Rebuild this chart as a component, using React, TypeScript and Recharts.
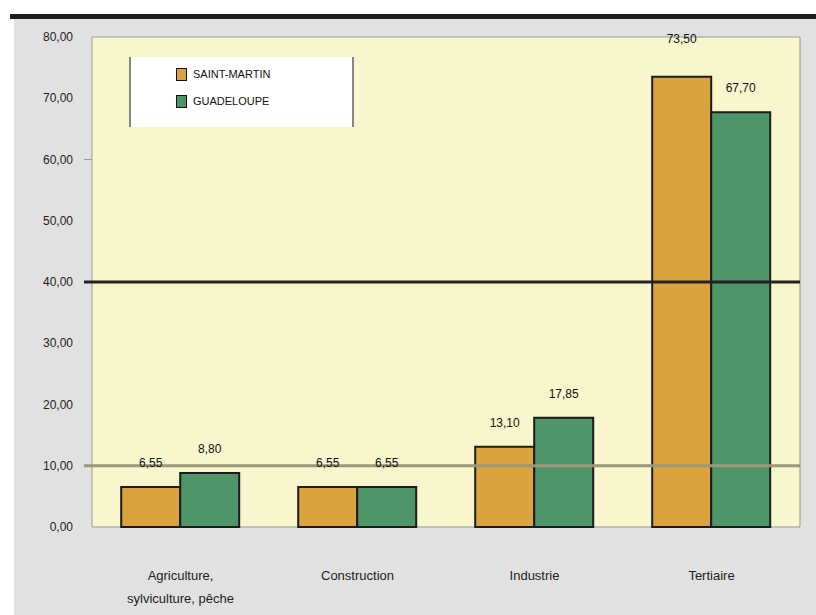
import React from "react";
import { BarChart, Bar, XAxis, YAxis, ReferenceLine, ReferenceArea, LabelList } from "recharts";

const categories = ["Agriculture,\nsylviculture, pêche", "Construction", "Industrie", "Tertiaire"];
const saintMartin = [6.55, 6.55, 13.1, 73.5];
const guadeloupe = [8.8, 6.55, 17.85, 67.7];
const seriesNames = ["SAINT-MARTIN", "GUADELOUPE"];
const yTicks = [0, 10, 20, 30, 40, 50, 60, 70, 80];

const data = categories.map((c, i) => ({ name: c, sm: saintMartin[i], gp: guadeloupe[i] }));

const ORANGE = "#dba33d";
const GREEN = "#4e956a";
const FONT = "'Liberation Sans', Arial, sans-serif";

const fmt = (v: number) => v.toFixed(2).replace(".", ",");

const YTick = (props: any) => {
  const { y, payload } = props;
  const v = payload.value;
  return (
    <g>
      {v === 10 && <line x1={84} x2={92} y1={y} y2={y} stroke="#9d9879" strokeWidth={3} />}
      {v === 40 && <line x1={84} x2={92} y1={y} y2={y} stroke="#222" strokeWidth={3} />}
      {v === 60 && <line x1={84} x2={92} y1={y} y2={y} stroke="#999" strokeWidth={1} />}
      <text x={73} y={y} dy={4} textAnchor="end" fontSize={12} fontFamily={FONT} fill="#222">
        {fmt(v)}
      </text>
    </g>
  );
};

const XTick = (props: any) => {
  const { x, y, payload } = props;
  const lines = String(payload.value).split("\n");
  return (
    <g>
      {lines.map((l, i) => (
        <text key={i} x={x} y={y + 45 + i * 23} textAnchor="middle" fontSize={13} fontFamily={FONT} fill="#222">
          {l}
        </text>
      ))}
    </g>
  );
};

const makeLabel = (extraIndex: number, extra: number) => (props: any) => {
  const { x, y, width, value, index } = props;
  const off = index === extraIndex ? extra : 0;
  return (
    <text x={x + width / 2} y={y - 20 - off} textAnchor="middle" fontSize={12} fontFamily={FONT} fill="#111">
      {fmt(value)}
    </text>
  );
};

const LegendBox = () => (
  <div
    style={{
      position: "absolute",
      left: 129,
      top: 57,
      width: 225,
      height: 70,
      background: "#fff",
      borderLeft: "2px solid #888",
      borderRight: "2px solid #888",
      fontFamily: FONT,
      fontSize: 11,
      color: "#111",
      boxSizing: "border-box",
      paddingTop: 10,
    }}
  >
    {seriesNames.map((n, i) => (
      <div key={n} style={{ display: "flex", alignItems: "center", marginLeft: 45, height: 14, marginBottom: 13 }}>
        <span
          style={{
            display: "inline-block",
            width: 9,
            height: 11,
            background: i === 0 ? ORANGE : GREEN,
            border: "1px solid #111",
            marginRight: 6,
          }}
        />
        <span>{n}</span>
      </div>
    ))}
  </div>
);

export default function App() {
  return (
    <div style={{ position: "fixed", left: 0, top: 0, width: 816, height: 615, background: "#fff", overflow: "hidden" }}>
      <style>{`body{margin:0;overflow:hidden}`}</style>
      <div style={{ position: "absolute", left: 10, top: 14, width: 806, height: 5, background: "#1e1e1e" }} />
      <div style={{ position: "absolute", left: 14, top: 19, width: 802, height: 596, background: "#e1e1e1" }} />
      <div style={{ position: "absolute", left: 0, top: 0 }}>
        <BarChart
          width={816}
          height={615}
          data={data}
          margin={{ top: 37, right: 16, bottom: 58, left: 22 }}
          barCategoryGap="16.5%"
          barGap={0}
        >
          <ReferenceArea y1={0} y2={80} fill="#f8f6cd" fillOpacity={1} stroke="#999" strokeWidth={1} />
          <XAxis dataKey="name" axisLine={false} tickLine={false} height={30} tick={<XTick />} interval={0} />
          <YAxis
            domain={[0, 80]}
            ticks={yTicks}
            width={70}
            axisLine={false}
            tickLine={false}
            tick={<YTick />}
            interval={0}
          />
          <ReferenceLine y={10} stroke="#9d9879" strokeWidth={3} />
          <ReferenceLine y={40} stroke="#222" strokeWidth={3} />
          <Bar dataKey="sm" name={seriesNames[0]} fill={ORANGE} stroke="#1c1c1c" strokeWidth={2} isAnimationActive={false}>
            <LabelList dataKey="sm" content={makeLabel(3, 14)} />
          </Bar>
          <Bar dataKey="gp" name={seriesNames[1]} fill={GREEN} stroke="#1c1c1c" strokeWidth={2} isAnimationActive={false}>
            <LabelList dataKey="gp" content={makeLabel(-1, 0)} />
          </Bar>
        </BarChart>
      </div>
      <LegendBox />
    </div>
  );
}
